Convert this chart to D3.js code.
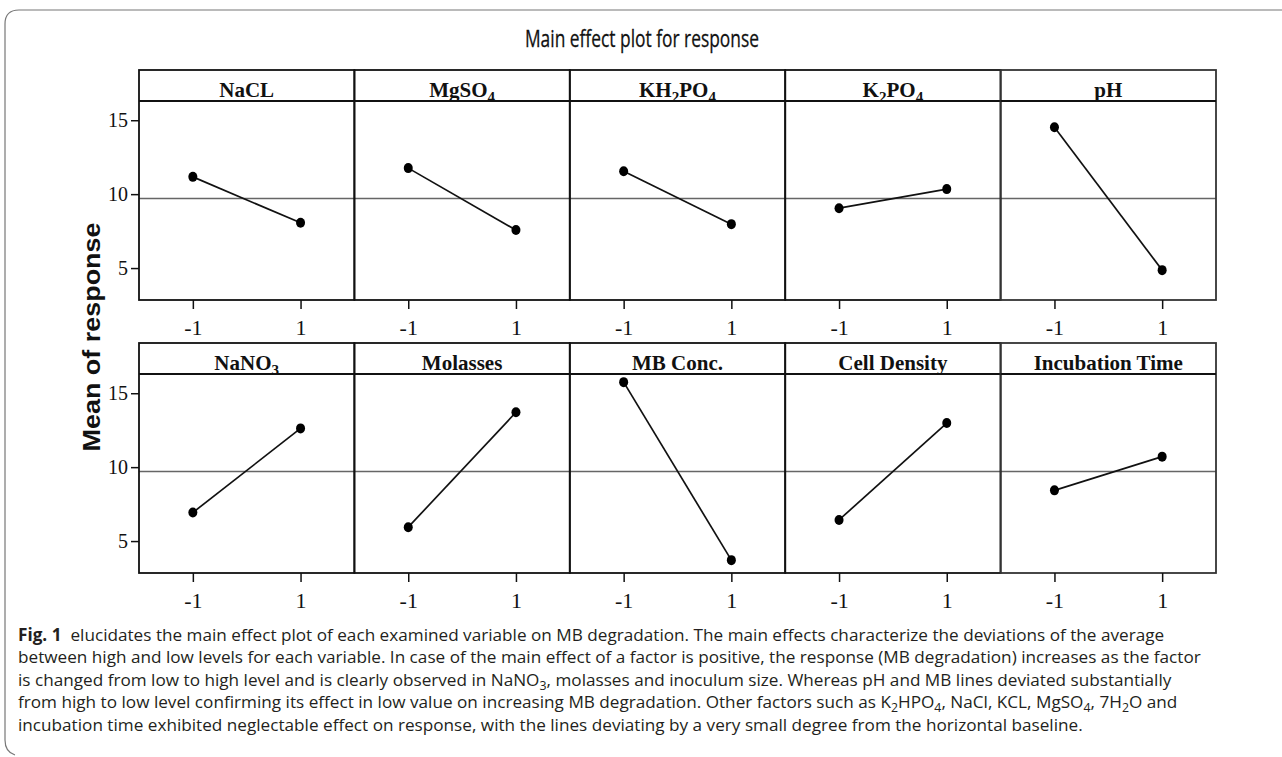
<!DOCTYPE html>
<html>
<head>
<meta charset="utf-8">
<title>Main effect plot for response</title>
<script src="https://d3js.org/d3.v7.min.js"></script>
<style>
  body { margin: 0; background: #fff; }
  svg { display: block; }
</style>
</head>
<body>
<script>
// factors, in reading order (5 per row); "_n" marks a subscript
const factorNames = ['NaCL', 'MgSO_4', 'KH_2PO_4', 'K_2PO_4', 'pH',
  'NaNO_3', 'Molasses', 'MB Conc.', 'Cell Density', 'Incubation Time']
// mean response at the low (-1) and high (1) level
const lowMeans = [11.17, 11.76, 11.55, 9.05, 14.53, 6.93, 5.94, 15.75, 6.43, 8.43]
const highMeans = [8.06, 7.57, 7.97, 10.34, 4.86, 12.62, 13.71, 3.71, 12.98, 10.71]
const levels = [-1, 1]
const levelLabels = ['-1', '1']
const yTicks = [5, 10, 15]
const grandMean = 9.7

const titleText = 'Main effect plot for response'
const yLabel = 'Mean of response'
const captionLines = [
  'elucidates the main effect plot of each examined variable on MB degradation. The main effects characterize the deviations of the average',
  'between high and low levels for each variable. In case of the main effect of a factor is positive, the response (MB degradation) increases as the factor',
  'is changed from low to high level and is clearly observed in NaNO_3, molasses and inoculum size. Whereas pH and MB lines deviated substantially',
  'from high to low level confirming its effect in low value on increasing MB degradation. Other factors such as K_2HPO_4, NaCl, KCL, MgSO_4, 7H_2O and',
  'incubation time exhibited neglectable effect on response, with the lines deviating by a very small degree from the horizontal baseline.'
]

const svg = d3.select('body').append('svg')
  .attr('width', 1282).attr('height', 757)

// writes "ab_2c" into a text element, digits after "_" as subscripts
function addRich (sel, str, subShift) {
  const parts = str.split(/_(\d)/)
  let shifted = false
  parts.forEach((p, i) => {
    if (p === '') return
    const t = sel.append('tspan').text(p)
    if (i % 2 === 1) {
      t.attr('dy', subShift).attr('font-size', '0.72em')
      shifted = true
    } else if (shifted) {
      t.attr('dy', -subShift)
      shifted = false
    }
  })
}

// outer frame of the figure
svg.append('path')
  .attr('d', 'M1282,10 H19 Q5,10 5,24 V740 Q5,752 15,755')
  .attr('fill', 'none').attr('stroke', '#777').attr('stroke-width', 1.2)

// title
svg.append('text')
  .attr('x', 642).attr('y', 47)
  .attr('text-anchor', 'middle')
  .attr('font-family', '"Open Sans", sans-serif')
  .attr('font-size', 24)
  .attr('fill', '#111')
  .attr('stroke', '#111').attr('stroke-width', 0.3)
  .attr('textLength', 234).attr('lengthAdjust', 'spacingAndGlyphs')
  .text(titleText)

// y axis title
svg.append('text')
  .attr('transform', 'translate(100, 337) rotate(-90)')
  .attr('text-anchor', 'middle')
  .attr('font-family', '"Liberation Sans", Arial, sans-serif')
  .attr('font-weight', 'bold')
  .attr('font-size', 24)
  .attr('fill', '#111')
  .attr('textLength', 229).attr('lengthAdjust', 'spacingAndGlyphs')
  .text(yLabel)

const plotLeft = 139
const plotRight = 1216
const panelW = (plotRight - plotLeft) / 5
const rows = [
  { headerTop: 70, plotTop: 101, plotBottom: 300 },
  { headerTop: 343, plotTop: 374, plotBottom: 573 }
]

const x = d3.scaleLinear().domain([-2, 2]).range([0, panelW])

rows.forEach((r, ri) => {
  const y = d3.scaleLinear().domain([2.84, 16.3]).range([r.plotBottom, r.plotTop])

  // grand mean reference line across the whole row
  svg.append('line')
    .attr('x1', plotLeft).attr('x2', plotRight)
    .attr('y1', y(grandMean)).attr('y2', y(grandMean))
    .attr('stroke', '#666').attr('stroke-width', 1.5)

  // left value axis
  const yAxis = d3.axisLeft(y).tickValues(yTicks).tickSize(8).tickPadding(3).tickSizeOuter(0)
  const ya = svg.append('g')
    .attr('transform', `translate(${plotLeft}, 0)`)
    .call(yAxis)
  ya.select('.domain').remove()
  ya.selectAll('line').attr('stroke', '#111').attr('stroke-width', 1.5)
  ya.selectAll('text')
    .attr('font-family', '"Liberation Serif", "Times New Roman", serif')
    .attr('font-size', 20).attr('fill', '#111')

  for (let c = 0; c < 5; c++) {
    const i = ri * 5 + c
    const g = svg.append('g')
      .attr('transform', `translate(${plotLeft + c * panelW}, 0)`)

    // panel frame and header strip
    g.append('rect')
      .attr('x', 0).attr('y', r.headerTop)
      .attr('width', panelW).attr('height', r.plotBottom - r.headerTop)
      .attr('fill', 'none')
      .attr('stroke', c === 4 ? '#333' : '#111').attr('stroke-width', 1.8)
    g.append('line')
      .attr('x1', 0).attr('x2', panelW)
      .attr('y1', r.plotTop).attr('y2', r.plotTop)
      .attr('stroke', '#111').attr('stroke-width', 2)

    const head = g.append('text')
      .attr('x', panelW / 2).attr('y', r.plotTop - 4)
      .attr('text-anchor', 'middle')
      .attr('font-family', '"Liberation Serif", "Times New Roman", serif')
      .attr('font-weight', 'bold')
      .attr('font-size', 21)
      .attr('fill', '#111')
    addRich(head, factorNames[i], 5)

    // level axis
    const xAxis = d3.axisBottom(x).tickValues(levels)
      .tickFormat((d, k) => levelLabels[k]).tickSize(9).tickPadding(10).tickSizeOuter(0)
    const xa = g.append('g')
      .attr('transform', `translate(0, ${r.plotBottom})`)
      .call(xAxis)
    xa.select('.domain').remove()
    xa.selectAll('line').attr('stroke', '#111').attr('stroke-width', 1.5)
    xa.selectAll('text')
      .attr('font-family', '"Liberation Serif", "Times New Roman", serif')
      .attr('font-size', 22).attr('fill', '#111')

    // main effect line and points
    const pts = levels.map((lv, k) => ({ lv, v: k === 0 ? lowMeans[i] : highMeans[i] }))
    g.append('path')
      .datum(pts)
      .attr('d', d3.line().x(d => x(d.lv)).y(d => y(d.v)))
      .attr('fill', 'none').attr('stroke', '#111').attr('stroke-width', 1.7)
    g.selectAll('.pt')
      .data(pts).enter()
      .append('ellipse')
      .attr('class', 'pt')
      .attr('cx', d => x(d.lv)).attr('cy', d => y(d.v))
      .attr('rx', 4.5).attr('ry', 5)
      .attr('fill', '#000')
  }
})

// caption, one text per line
const cap = svg.append('g')
captionLines.forEach((line, k) => {
  const t = cap.append('text')
    .attr('x', 18).attr('y', 641 + k * 22.4)
    .attr('font-family', '"Open Sans", sans-serif')
    .attr('font-size', 17)
    .attr('fill', '#231f20')
  if (k === 0) {
    t.append('tspan').attr('font-weight', 'bold').text('Fig. 1')
    t.append('tspan').text('\u00a0\u00a0')
  }
  addRich(t, line, 4)
})
// fit the widest line to the width it has in the figure
const capW = cap.node().getBBox().width
cap.attr('transform', `translate(18, 0) scale(${1183 / capW}, 1) translate(-18, 0)`)
</script>
</body>
</html>
